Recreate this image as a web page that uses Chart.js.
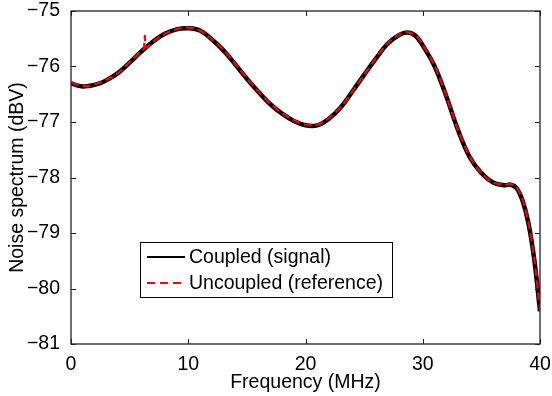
<!DOCTYPE html>
<html>
<head>
<meta charset="utf-8">
<script src="https://cdn.jsdelivr.net/npm/chart.js@4.4.1/dist/chart.umd.min.js"></script>
<style>
  html, body { margin: 0; padding: 0; background: #fff; }
  #wrap { width: 552px; height: 396px; }
</style>
</head>
<body>
<div id="wrap"><canvas id="noiseChart" width="552" height="396"></canvas></div>
<script>
// frequency axis (MHz)
var freqCoupled = [0, 0.5, 1, 1.5, 2, 2.5, 3, 4, 5, 6, 7, 8, 9, 10, 11, 12, 13, 14, 15, 16, 17, 18, 19, 20, 21, 22, 23, 24, 25, 26, 27, 28, 28.5, 29, 29.5, 30, 31, 32, 33, 34, 35, 36, 37, 37.5, 38, 38.5, 39, 39.5, 40];
var coupled = [-76.30, -76.34, -76.36, -76.35, -76.33, -76.30, -76.25, -76.12, -75.93, -75.73, -75.55, -75.41, -75.33, -75.31, -75.35, -75.51, -75.71, -75.96, -76.22, -76.46, -76.68, -76.85, -76.98, -77.06, -77.06, -76.94, -76.74, -76.45, -76.15, -75.86, -75.59, -75.43, -75.39, -75.40, -75.47, -75.62, -75.99, -76.53, -77.14, -77.63, -77.92, -78.09, -78.14, -78.13, -78.19, -78.41, -78.81, -79.46, -80.41];

var freqRef = [0, 0.5, 1, 1.5, 2, 2.5, 3, 4, 5, 6, 6.2, 6.3, 6.4, 7, 8, 9, 10, 11, 12, 13, 14, 15, 16, 17, 18, 19, 20, 21, 22, 23, 24, 25, 26, 27, 28, 28.5, 29, 29.5, 30, 31, 32, 33, 34, 35, 36, 37, 37.5, 38, 38.5, 39, 39.5, 40];
var uncoupled = [-76.29, -76.33, -76.35, -76.35, -76.32, -76.29, -76.24, -76.12, -75.92, -75.72, -75.69, -75.45, -75.66, -75.55, -75.41, -75.33, -75.30, -75.35, -75.51, -75.70, -75.95, -76.21, -76.46, -76.67, -76.84, -76.97, -77.05, -77.05, -76.93, -76.73, -76.45, -76.15, -75.85, -75.58, -75.42, -75.38, -75.40, -75.46, -75.61, -75.98, -76.53, -77.14, -77.62, -77.92, -78.09, -78.13, -78.12, -78.18, -78.40, -78.80, -79.45, -80.40];

var seriesLabels = ['Coupled (signal)', 'Uncoupled (reference)'];
var xTicks = { min: 0, max: 40, step: 10 };
var yTicks = { min: -81, max: -75, step: 1 };

var FONT = '"Liberation Sans", Arial, Helvetica, sans-serif';
var FSIZE = 19.5;

function toPoints(xs, ys) {
    return xs.map(function (x, i) { return { x: x, y: ys[i] }; });
}

var data = {
    datasets: [{
        label: seriesLabels[0],
        data: toPoints(freqCoupled, coupled),
        borderColor: '#000',
        borderWidth: 4.5,
        pointRadius: 0,
        tension: 0.4,
        order: 2
    }, {
        label: seriesLabels[1],
        data: toPoints(freqRef, uncoupled),
        borderColor: '#ff0000',
        borderWidth: 2.2,
        borderDash: [8, 4],
        pointRadius: 0,
        tension: 0.3,
        order: 1
    }]
};

// frame, inward tick marks and the boxed legend (MATLAB look)
var framePlugin = {
    id: 'frame',
    afterDraw: function (chart) {
        var ctx = chart.ctx;
        var a = chart.chartArea;
        var xs = chart.scales.x, ys = chart.scales.y;
        ctx.save();
        ctx.strokeStyle = '#222';
        ctx.lineWidth = 1.3;
        ctx.strokeRect(a.left, a.top, a.right - a.left, a.bottom - a.top);
        ctx.lineWidth = 1;
        ctx.beginPath();
        xs.ticks.forEach(function (t) {
            var px = Math.round(xs.getPixelForValue(t.value)) + 0.5;
            ctx.moveTo(px, a.bottom); ctx.lineTo(px, a.bottom - 5);
            ctx.moveTo(px, a.top); ctx.lineTo(px, a.top + 5);
        });
        ys.ticks.forEach(function (t) {
            var py = Math.round(ys.getPixelForValue(t.value)) + 0.5;
            ctx.moveTo(a.left, py); ctx.lineTo(a.left + 5, py);
            ctx.moveTo(a.right, py); ctx.lineTo(a.right - 5, py);
        });
        ctx.stroke();

        // legend box
        var bx = a.left + 69, by = a.top + 231, bw = 252, bh = 55;
        ctx.fillStyle = '#fff';
        ctx.fillRect(bx, by, bw, bh);
        ctx.strokeStyle = '#000';
        ctx.lineWidth = 1;
        ctx.strokeRect(bx + 0.5, by + 0.5, bw, bh);
        ctx.font = FSIZE + 'px ' + FONT;
        ctx.textBaseline = 'middle';
        ctx.textAlign = 'left';
        chart.data.datasets.forEach(function (ds, i) {
            var cy = by + 15 + i * 26;
            ctx.save();
            ctx.strokeStyle = ds.borderColor;
            ctx.lineWidth = 2;
            if (ds.borderDash) ctx.setLineDash([8, 5]);
            ctx.beginPath();
            ctx.moveTo(bx + 7, cy);
            ctx.lineTo(bx + 45, cy);
            ctx.stroke();
            ctx.restore();
            ctx.fillStyle = '#000';
            ctx.fillText(ds.label, bx + 49, cy + 1);
        });
        ctx.restore();
    }
};

var config = {
    type: 'line',
    data: data,
    options: {
        responsive: false,
        animation: false,
        layout: { padding: { top: 11, right: 12, left: 0, bottom: 0 } },
        plugins: { legend: { display: false }, tooltip: { enabled: false } },
        scales: {
            x: {
                type: 'linear',
                min: xTicks.min,
                max: xTicks.max,
                grid: { display: false },
                border: { display: false },
                ticks: {
                    stepSize: xTicks.step,
                    color: '#000',
                    padding: 1,
                    maxRotation: 0,
                    font: { family: FONT, size: FSIZE }
                },
                title: {
                    display: true,
                    text: 'Frequency (MHz)',
                    color: '#000',
                    padding: { top: 0, bottom: 2 },
                    font: { family: FONT, size: FSIZE }
                },
                afterFit: function (s) {
                    s.height = 52;
                    s.paddingLeft = 0;
                    s.paddingRight = 0;
                }
            },
            y: {
                min: yTicks.min,
                max: yTicks.max,
                grid: { display: false },
                border: { display: false },
                ticks: {
                    stepSize: yTicks.step,
                    color: '#000',
                    padding: 3,
                    font: { family: FONT, size: FSIZE },
                    callback: function (v) { return String(v).replace('-', '\u2212'); }
                },
                title: {
                    display: true,
                    text: 'Noise spectrum (dBV)',
                    color: '#000',
                    padding: { top: 6, bottom: 0 },
                    font: { family: FONT, size: FSIZE }
                },
                afterFit: function (s) {
                    s.width = 71;
                    s.paddingTop = 0;
                    s.paddingBottom = 0;
                }
            }
        }
    },
    plugins: [framePlugin]
};

var noiseChart = new Chart(document.getElementById('noiseChart'), config);
</script>
</body>
</html>
